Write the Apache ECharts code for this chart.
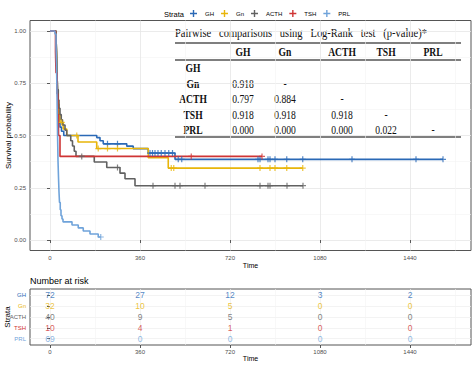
<!DOCTYPE html>
<html><head><meta charset="utf-8">
<script src="https://cdn.jsdelivr.net/npm/echarts@6/dist/echarts.min.js"></script>
<style>html,body{margin:0;padding:0;background:#fff}#c{width:474px;height:365px}</style>
</head><body><div id="c"></div>
<script>
// ---------- DATA ----------
const strata = ['GH', 'Gn', 'ACTH', 'TSH', 'PRL'];

const ghTime = [0, 24, 26, 28, 30, 32, 34, 37, 40, 46, 55, 187, 200, 213, 307, 333, 393, 500];
const ghSurv = [1, 0.97, 0.9, 0.8, 0.72, 0.65, 0.6, 0.56, 0.54, 0.52, 0.5, 0.49, 0.475, 0.46, 0.449, 0.437, 0.416, 0.386];
const ghEnd = 1572;
const ghCensor = [230, 270, 400, 410, 420, 432, 445, 460, 475, 490, 513, 527, 832, 840, 872, 880, 900, 947, 1011, 1208, 1464, 1572];

const gnTime = [0, 24, 26, 28, 30, 33, 36, 40, 53, 67, 112, 187, 393, 473];
const gnSurv = [1, 0.97, 0.9, 0.8, 0.72, 0.65, 0.6, 0.5625, 0.531, 0.5, 0.469, 0.4375, 0.394, 0.344];
const gnEnd = 1011;
const gnCensor = [47, 107, 193, 230, 270, 485, 495, 840, 880, 900, 947, 1011];

const acthTime = [0, 24, 26, 28, 30, 33, 36, 40, 45, 50, 60, 67, 83, 90, 97, 104, 177, 227, 280, 300, 340];
const acthSurv = [1, 0.975, 0.9, 0.8, 0.72, 0.67, 0.63, 0.6, 0.575, 0.55, 0.525, 0.5, 0.475, 0.45, 0.425, 0.4, 0.373, 0.347, 0.32, 0.293, 0.26];
const acthEnd = 1012;
const acthCensor = [127, 270, 412, 500, 520, 620, 840, 872, 880, 948, 1012];

const tshTime = [0, 22, 24, 28, 31, 34, 40];
const tshSurv = [1, 0.9, 0.8, 0.7, 0.6, 0.5, 0.4];
const tshEnd = 848;
const tshCensor = [565, 848];

const prlTime = [0, 20, 24, 26, 28, 30, 32, 34, 36, 38, 41, 44, 48, 52, 88, 113, 133, 160, 193];
const prlSurv = [1, 0.986, 0.93, 0.84, 0.7, 0.52, 0.38, 0.3, 0.23, 0.18, 0.145, 0.116, 0.101, 0.087, 0.072, 0.058, 0.043, 0.029, 0.0145];
const prlEnd = 203;
const prlCensor = [203];

const riskTimes = [0, 360, 720, 1080, 1440];
const riskGH = [72, 27, 12, 3, 2];
const riskGn = [32, 10, 5, 0, 0];
const riskACTH = [40, 9, 5, 0, 0];
const riskTSH = [10, 4, 1, 0, 0];
const riskPRL = [69, 0, 0, 0, 0];

const xTicks = [0, 360, 720, 1080, 1440];
const xMinor = [180, 540, 900, 1260, 1620];
const yTicks = [0, 0.25, 0.5, 0.75, 1];
const yMinor = [0.125, 0.375, 0.625, 0.875];

const tableTitle = 'Pairwise   comparisons   using   Log-Rank   test   (p-value)*';
const tableCols = ['GH', 'Gn', 'ACTH', 'TSH', 'PRL'];
const tableRows = ['GH', 'Gn', 'ACTH', 'TSH', 'PRL'];
const tableValues = [
  [],
  ['0.918', '-'],
  ['0.797', '0.884', '-'],
  ['0.918', '0.918', '0.918', '-'],
  ['0.000', '0.000', '0.000', '0.022', '-']
];

// ---------- STYLE ----------
const palette = ['#2a69b6', '#e8b50a', '#616161', '#cf3434', '#6fa3da'];
const SANS = 'Liberation Sans, Arial, sans-serif';
const SERIF = 'Liberation Serif, Times New Roman, serif';

const curves = [
  [ghTime, ghSurv, ghEnd, ghCensor],
  [gnTime, gnSurv, gnEnd, gnCensor],
  [acthTime, acthSurv, acthEnd, acthCensor],
  [tshTime, tshSurv, tshEnd, tshCensor],
  [prlTime, prlSurv, prlEnd, prlCensor]
];
const risks = [riskGH, riskGn, riskACTH, riskTSH, riskPRL];

function stepData(t, s, end) {
  const d = t.map((v, i) => [v, s[i]]);
  d.push([end, s[s.length - 1]]);
  return d;
}
function survAt(t, s, x) {
  let v = s[0];
  for (let i = 0; i < t.length; i++) if (t[i] <= x) v = s[i];
  return v;
}
const crossPath = 'path://M4,0H6V4H10V6H6V10H4V6H0V4H4Z';

const series = [];
curves.forEach((c, i) => {
  series.push({
    name: strata[i], type: 'line', step: 'end', xAxisIndex: 0, yAxisIndex: 0,
    data: stepData(c[0], c[1], c[2]), symbol: 'none', color: palette[i],
    lineStyle: { width: 1.6, color: palette[i] }, silent: true, z: 3 + i
  });
});
curves.forEach((c, i) => {
  series.push({
    name: strata[i] + ' censor', type: 'scatter', xAxisIndex: 0, yAxisIndex: 0,
    data: c[3].map(x => [x, survAt(c[0], c[1], x)]),
    symbol: crossPath, symbolSize: 6, itemStyle: { color: palette[i] }, silent: true, z: 10 + i
  });
});
risks.forEach((r, i) => {
  series.push({
    name: strata[i] + ' risk', type: 'scatter', xAxisIndex: 2, yAxisIndex: 2,
    data: r.map((v, k) => [riskTimes[k], i + 1, v]),
    symbol: 'circle', symbolSize: 2, itemStyle: { color: 'rgba(0,0,0,0)' }, silent: true, z: 20,
    label: { show: true, position: 'inside', formatter: p => String(p.value[2]),
      color: palette[i], fontSize: 8.5, fontFamily: SANS }
  });
});

const tickStyle = { show: true, length: 3, lineStyle: { color: '#333', width: 0.8 } };
const splitMajor = { show: true, lineStyle: { color: '#e6e6e6', width: 0.8 } };
const splitRisk = { show: true, lineStyle: { color: '#eeeeee', width: 0.7 } };
const splitMinor = { show: true, lineStyle: { color: '#f3f3f3', width: 0.6 } };
const lbl = { fontSize: 6, color: '#4d4d4d', fontFamily: SANS };

function xMain(grid, gap) {
  return {
    gridIndex: grid, type: 'value', min: -80, max: 1684,
    axisLine: { show: false },
    axisTick: Object.assign({ customValues: xTicks }, tickStyle),
    axisLabel: Object.assign({ customValues: xTicks, margin: 4, formatter: v => String(v) }, lbl),
    splitLine: grid === 0 ? splitMajor : splitRisk,
    name: 'Time', nameLocation: 'middle', nameGap: gap, nameMoveOverlap: false,
    nameTextStyle: { fontSize: 7, color: '#000', fontFamily: SANS }
  };
}
function xMinorAxis(grid) {
  return {
    gridIndex: grid, type: 'value', min: -80, max: 1684, position: 'top',
    axisLine: { show: false }, axisTick: { show: false, customValues: xMinor },
    axisLabel: { show: false }, splitLine: splitMinor
  };
}

// ---------- TABLE GRAPHIC ----------
const tLeft = 175, tRight = 461;
const colX = [193, 243, 285, 342, 386, 433];
const rowY = [68, 83.5, 99, 114.5, 129.5];
const tScale = 0.8;
const graphics = [];
graphics.push({ type: 'text', x: tLeft, y: 33, scaleX: 0.84, silent: true,
  style: { text: tableTitle, font: '12.5px ' + SERIF, fill: '#111', align: 'left', verticalAlign: 'middle' } });
[43, 60, 137].forEach(y => graphics.push({ type: 'line', silent: true,
  shape: { x1: tLeft, y1: y, x2: tRight, y2: y }, style: { stroke: '#555', lineWidth: 1.3 } }));
tableCols.forEach((c, j) => graphics.push({ type: 'text', x: colX[j + 1], y: 52, scaleX: tScale, silent: true,
  style: { text: c, font: 'bold 12px ' + SERIF, fill: '#111', align: 'center', verticalAlign: 'middle' } }));
tableRows.forEach((r, i) => {
  graphics.push({ type: 'text', x: colX[0], y: rowY[i], scaleX: tScale, silent: true,
    style: { text: r, font: 'bold 12px ' + SERIF, fill: '#111', align: 'center', verticalAlign: 'middle' } });
  tableValues[i].forEach((v, j) => graphics.push({ type: 'text', x: colX[j + 1], y: rowY[i], scaleX: tScale, silent: true,
    style: { text: v, font: '12px ' + SERIF, fill: '#111', align: 'center', verticalAlign: 'middle' } }));
});
graphics.push({ type: 'text', x: 164, y: 14, silent: true,
  style: { text: 'Strata', font: '7.5px ' + SANS, fill: '#000', align: 'left', verticalAlign: 'middle' } });
graphics.push({ type: 'text', x: 30, y: 281, silent: true,
  style: { text: 'Number at risk', font: '9px ' + SANS, fill: '#000', align: 'left', verticalAlign: 'middle' } });

const option = {
  animation: false,
  backgroundColor: '#fff',
  textStyle: { fontFamily: SANS },
  legend: {
    data: strata, left: 190, top: 10, itemWidth: 13, itemHeight: 7, itemGap: 7,
    icon: crossPath, selectedMode: false, padding: 0,
    textStyle: { fontSize: 6, color: '#000', fontFamily: SANS }
  },
  grid: [
    { left: 30, top: 20.5, width: 441, height: 230, show: true, borderColor: '#555', borderWidth: 1, backgroundColor: 'transparent', containLabel: false, outerBoundsMode: 'none' },
    { left: 30, top: 289, width: 441, height: 56, show: true, borderColor: '#555', borderWidth: 1, backgroundColor: 'transparent', containLabel: false, outerBoundsMode: 'none' }
  ],
  xAxis: [xMain(0, 11), xMinorAxis(0), xMain(1, 10), xMinorAxis(1)],
  yAxis: [
    {
      gridIndex: 0, type: 'value', min: -0.05, max: 1.05,
      axisLine: { show: false },
      axisTick: Object.assign({ customValues: yTicks }, tickStyle),
      axisLabel: Object.assign({ customValues: yTicks, margin: 4, formatter: v => v.toFixed(2) }, lbl),
      splitLine: splitMajor,
      name: 'Survival probability', nameLocation: 'middle', nameGap: 18, nameMoveOverlap: false,
      nameTextStyle: { fontSize: 8, color: '#000', fontFamily: SANS }
    },
    {
      gridIndex: 0, type: 'value', min: -0.05, max: 1.05, position: 'right',
      axisLine: { show: false }, axisTick: { show: false, customValues: yMinor },
      axisLabel: { show: false }, splitLine: splitMinor
    },
    {
      gridIndex: 1, type: 'value', min: 0.4, max: 5.6, inverse: true,
      axisLine: { show: false },
      axisTick: Object.assign({ customValues: [1, 2, 3, 4, 5] }, tickStyle),
      axisLabel: { customValues: [1, 2, 3, 4, 5], margin: 4, fontSize: 6, fontFamily: SANS,
        formatter: v => strata[Math.round(v) - 1],
        color: (v) => palette[Math.round(v) - 1] },
      splitLine: splitRisk,
      name: 'Strata', nameLocation: 'middle', nameGap: 19, nameMoveOverlap: false,
      nameTextStyle: { fontSize: 8, color: '#000', fontFamily: SANS }
    }
  ],
  graphic: graphics,
  series: series
};
const chart = echarts.init(document.getElementById('c'), null, { renderer: 'svg' });
chart.setOption(option);
</script></body></html>
